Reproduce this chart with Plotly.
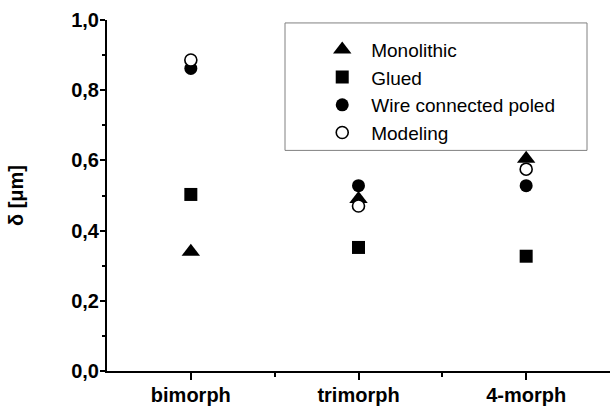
import plotly.graph_objects as go

categories = ["bimorph", "trimorph", "4-morph"]
monolithic = [0.34, 0.49, 0.605]
glued = [0.503, 0.352, 0.327]
wire_connected = [0.862, 0.528, 0.528]
modeling = [0.886, 0.47, 0.575]
y_ticks = [0.0, 0.2, 0.4, 0.6, 0.8, 1.0]

xpos = [i + 1 for i in range(len(categories))]

FONT = "Liberation Sans, Arial, sans-serif"

fig = go.Figure()
series = [
    ("Monolithic", monolithic, "triangle-up", "black", 16),
    ("Glued", glued, "square", "black", 13),
    ("Wire connected poled", wire_connected, "circle", "black", 13),
    ("Modeling", modeling, "circle", "white", 12),
]
for name, vals, sym, fill, size in series:
    fig.add_trace(go.Scatter(
        x=xpos, y=vals, mode="markers", name=name,
        marker=dict(symbol=sym, color=fill, size=size,
                    line=dict(color="black", width=1.6 if fill == "white" else 0)),
    ))

axis_common = dict(showline=True, linewidth=2, linecolor="black", showgrid=False,
                   zeroline=False, tickcolor="black", tickwidth=1.5)

fig.update_layout(
    width=611, height=407,
    margin=dict(l=107, r=1, t=20, b=29),
    paper_bgcolor="white", plot_bgcolor="white",
    separators=", ",
    font=dict(family=FONT, color="black"),
    showlegend=True,
    legend=dict(x=0.41, y=0.97, xanchor="left", yanchor="top",
                bgcolor="rgba(0,0,0,0)", borderwidth=0,
                font=dict(family=FONT, size=19, color="black"),
                itemwidth=48, tracegroupgap=0),
    xaxis=dict(range=[0.5, 3.5], tickmode="array", tickvals=xpos, ticktext=categories,
               ticks="outside", ticklen=7, ticklabelstandoff=-2,
               tickfont=dict(family=FONT, size=20, weight="bold", color="black"),
               minor=dict(tickmode="array", tickvals=[1.5, 2.5], ticks="outside",
                          ticklen=4, tickcolor="black", tickwidth=1.5),
               **axis_common),
    xaxis2=dict(range=[0.5, 3.5], overlaying="x", side="top", anchor="y",
                tickmode="array", tickvals=xpos, showticklabels=False,
                ticks="inside", ticklen=6,
                minor=dict(tickmode="array", tickvals=[1.5, 2.5], ticks="inside",
                           ticklen=6, tickcolor="black", tickwidth=1.5),
                **axis_common),
    yaxis=dict(range=[0, 1.0], tickmode="array", tickvals=y_ticks, tickformat=".1f",
               ticks="outside", ticklen=5, ticklabelstandoff=-3,
               tickfont=dict(family=FONT, size=20, weight="bold", color="black"),
               minor=dict(dtick=0.1, tick0=0, ticks="outside", ticklen=3,
                          tickcolor="black", tickwidth=1.5),
               title=dict(text="δ [μm]", standoff=42,
                          font=dict(family=FONT, size=20, weight="bold", color="black")),
               **axis_common),
    yaxis2=dict(range=[0, 1.0], overlaying="y", side="right", anchor="x",
                tickmode="array", tickvals=y_ticks, showticklabels=False,
                ticks="inside", ticklen=6,
                minor=dict(dtick=0.1, tick0=0, ticks="inside", ticklen=3,
                           tickcolor="black", tickwidth=1.5),
                **axis_common),
    shapes=[dict(type="rect", xref="paper", yref="paper",
                 x0=(285 - 107) / 503, x1=(587 - 107) / 503,
                 y0=(378 - 153) / 358, y1=(378 - 23) / 358,
                 line=dict(color="#808080", width=1), fillcolor="white", layer="below")],
)

fig.write_html("out.html")
